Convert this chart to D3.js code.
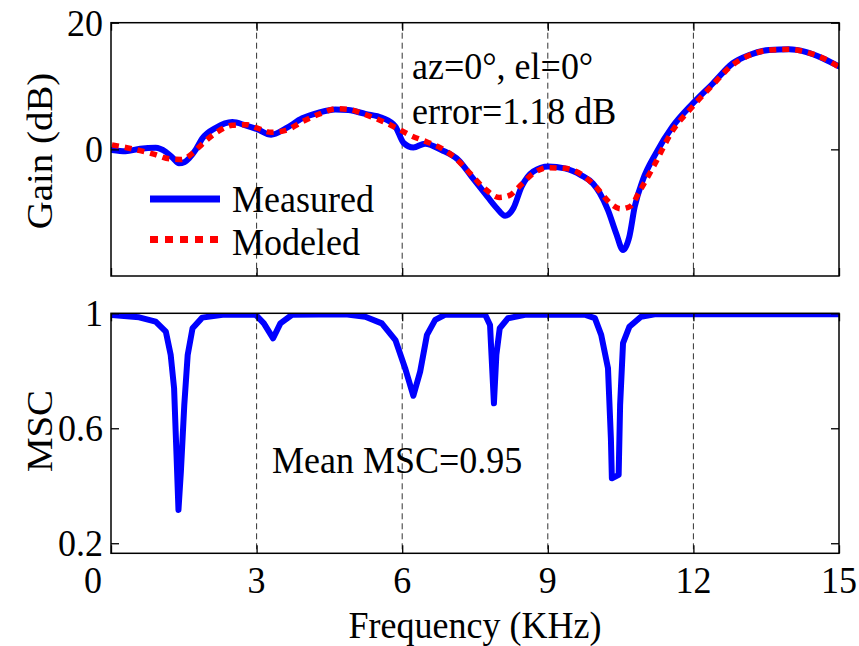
<!DOCTYPE html>
<html>
<head>
<meta charset="utf-8">
<script src="https://cdn.jsdelivr.net/npm/d3@7/dist/d3.min.js"></script>
<style>
body { margin: 0; background: #fff; }
</style>
</head>
<body>
<svg id="fig" width="859" height="646"></svg>
<script>
// measured gain (dB) vs frequency (kHz)
var measFreq = [0.02, 0.3, 0.6, 0.92, 1.13, 1.28, 1.40, 1.52, 1.61, 1.75, 1.88, 2.16, 2.5, 2.77, 3.01, 3.3, 3.6, 3.94,
  4.28, 4.62, 4.89, 5.24, 5.58, 5.86, 6.03, 6.23, 6.47, 6.81, 7.16, 7.43, 7.70, 7.95, 8.12, 8.29, 8.46, 8.70,
  9.01, 9.35, 9.69, 9.93, 10.07, 10.24, 10.41, 10.55, 10.68, 10.79, 10.96, 11.23, 11.57, 11.98, 12.40, 12.81,
  13.15, 13.56, 13.97, 14.31, 14.66, 15.0];
var measGain = [-0.1, -0.3, 0.1, 0.25, -0.4, -1.4, -2.2, -2.0, -1.4, 0.0, 1.7, 3.4, 4.3, 3.8, 3.2, 2.3, 3.3, 4.9,
  5.8, 6.3, 6.2, 5.6, 5.0, 3.6, 1.0, 0.3, 0.9, -0.1, -1.7, -4.3, -6.9, -9.3, -10.5, -9.3, -5.9, -3.5,
  -2.7, -3.0, -4.1, -5.4, -6.9, -9.6, -13.3, -15.9, -13.8, -9.1, -4.8, -0.6, 3.6, 7.2, 10.4, 13.6,
  14.9, 15.7, 15.8, 15.4, 14.4, 13.1];

// modeled gain
var modFreq = [0.02, 0.3, 0.6, 0.9, 1.2, 1.45, 1.7, 1.9, 2.2, 2.5, 2.8, 3.0, 3.3, 3.6, 3.95, 4.3, 4.65, 4.9,
  5.2, 5.6, 5.9, 6.2, 6.5, 6.8, 7.1, 7.4, 7.7, 8.0, 8.2, 8.45, 8.7, 9.0, 9.35, 9.7, 10.0, 10.3, 10.5, 10.7,
  10.9, 11.2, 11.55, 12.0, 12.4, 12.8, 13.2, 13.6, 14.0, 14.3, 14.7, 15.0];
var modGain = [0.7, 0.3, -0.2, -0.8, -1.5, -1.6, -0.5, 1.0, 2.8, 3.8, 3.9, 3.4, 2.7, 3.0, 4.4, 5.6, 6.4, 6.3,
  5.6, 4.4, 3.3, 2.1, 1.2, 0.2, -1.4, -3.8, -6.2, -7.6, -7.3, -5.6, -3.8, -2.9, -3.0, -4.0, -6.0, -8.6, -9.4, -9.0,
  -6.5, -2.4, 2.7, 6.9, 10.2, 13.3, 15.0, 15.7, 15.8, 15.4, 14.3, 13.0];

// magnitude squared coherence
var mscFreq = [0.02, 0.58, 0.92, 1.13, 1.23, 1.30, 1.35, 1.39, 1.44, 1.51, 1.58, 1.68, 1.88, 2.3, 2.98, 3.15, 3.34,
  3.49, 3.73, 4.83, 5.24, 5.58, 5.86, 6.06, 6.23, 6.37, 6.51, 6.68, 6.88, 7.71, 7.81, 7.84, 7.89, 7.94, 8.01,
  8.18, 8.53, 9.76, 9.97, 10.10, 10.24, 10.30, 10.32, 10.46, 10.49, 10.55, 10.68, 10.92, 11.23, 15.0];
var mscVal = [0.994, 0.986, 0.971, 0.936, 0.855, 0.739, 0.507, 0.316, 0.449, 0.681, 0.855, 0.948, 0.985, 0.995, 0.995,
  0.965, 0.913, 0.965, 0.995, 0.997, 0.988, 0.965, 0.907, 0.809, 0.713, 0.797, 0.925, 0.977, 0.995, 0.995, 0.959,
  0.855, 0.687, 0.855, 0.948, 0.983, 0.995, 0.995, 0.983, 0.925, 0.809, 0.565, 0.426, 0.438, 0.681, 0.896, 0.953,
  0.988, 0.997, 0.997];

var xTicks = [0, 3, 6, 9, 12, 15];
var gridTicks = [3, 6, 9, 12];
var gainTicks = [0, 20];
var mscTicks = [0.2, 0.6, 1];

var fontName = 'Liberation Serif';
var fs = 36, stretch = 1.08;   // serif text looks a bit taller than wide in the original
var left = 111, right = 839;
var top1 = 22.7, bot1 = 276, top2 = 313.3, bot2 = 553.3;

var svg = d3.select('#fig');
svg.append('rect').attr('width', 859).attr('height', 646).attr('fill', '#fff');
var defs = svg.append('defs');

var x = d3.scaleLinear().domain([0, 15]).range([left, right]);
var yGain = d3.scaleLinear().domain([-20, 20]).range([bot1, top1]);
var yMsc = d3.scaleLinear().domain([0.165, 1]).range([bot2, top2]);

function label(g, px, py, str, anchor, rot) {
    var tr = rot ? `translate(${px},${py}) rotate(-90) scale(${stretch},1)`
                 : `translate(${px},${py}) scale(1,${stretch})`;
    return g.append('text')
        .attr('transform', tr)
        .attr('text-anchor', anchor || 'start')
        .attr('font-family', fontName)
        .attr('font-size', fs)
        .attr('fill', '#000')
        .text(str);
}

function panel(id, y, ptop, pbot, yTicks) {
    var g = svg.append('g').attr('class', id);
    defs.append('clipPath').attr('id', 'clip-' + id)
        .append('rect').attr('x', left).attr('y', ptop).attr('width', right - left).attr('height', pbot - ptop);

    // vertical dashed grid
    g.selectAll('line.grid').data(gridTicks).join('line')
        .attr('class', 'grid')
        .attr('x1', d => x(d)).attr('x2', d => x(d))
        .attr('y1', ptop).attr('y2', pbot)
        .attr('stroke', '#333').attr('stroke-width', 1)
        .attr('stroke-dasharray', '6,4');

    var lines = g.append('g').attr('clip-path', `url(#clip-${id})`);

    // inner ticks on all four sides (matlab style box)
    var ax = g.append('g').attr('class', 'axes');
    ax.append('g').attr('transform', `translate(${left},0)`)
        .call(d3.axisLeft(y).tickValues(yTicks).tickSize(-8).tickFormat(''));
    ax.append('g').attr('transform', `translate(${right},0)`)
        .call(d3.axisRight(y).tickValues(yTicks).tickSize(-8).tickFormat(''));
    ax.append('g').attr('transform', `translate(0,${pbot})`)
        .call(d3.axisBottom(x).tickValues(xTicks).tickSize(-8).tickFormat(''));
    ax.append('g').attr('transform', `translate(0,${ptop})`)
        .call(d3.axisTop(x).tickValues(xTicks).tickSize(-8).tickFormat(''));
    ax.selectAll('.domain').remove();
    ax.selectAll('line').attr('stroke', '#000').attr('stroke-width', 1.3);

    g.append('rect')
        .attr('x', left).attr('y', ptop).attr('width', right - left).attr('height', pbot - ptop)
        .attr('fill', 'none').attr('stroke', '#000').attr('stroke-width', 1.5);

    yTicks.forEach(d => label(g, left - 8, y(d) + 13, d, 'end'));
    return lines;
}

// ---- top: gain
var gTop = panel('gain', yGain, top1, bot1, gainTicks);
var gainLine = d3.line().x(d => x(d[0])).y(d => yGain(d[1])).curve(d3.curveMonotoneX);

gTop.append('path')
    .datum(d3.zip(measFreq, measGain))
    .attr('fill', 'none').attr('stroke', '#0000ff').attr('stroke-width', 6)
    .attr('stroke-linejoin', 'round').attr('stroke-linecap', 'round')
    .attr('d', gainLine);
gTop.append('path')
    .datum(d3.zip(modFreq, modGain))
    .attr('fill', 'none').attr('stroke', '#ff0000').attr('stroke-width', 5.5)
    .attr('stroke-dasharray', '7,6')
    .attr('d', gainLine);

var gainAxes = d3.select('g.gain');
label(gainAxes, 52, 151, 'Gain (dB)', 'middle', true);
label(gainAxes, 412, 79, 'az=0°, el=0°');
label(gainAxes, 412, 124, 'error=1.18 dB');

// legend
gainAxes.append('line').attr('x1', 150).attr('x2', 220).attr('y1', 199).attr('y2', 199)
    .attr('stroke', '#0000ff').attr('stroke-width', 7);
gainAxes.append('line').attr('x1', 150).attr('x2', 220).attr('y1', 239.5).attr('y2', 239.5)
    .attr('stroke', '#ff0000').attr('stroke-width', 7).attr('stroke-dasharray', '8,7');
label(gainAxes, 232, 212, 'Measured');
label(gainAxes, 232, 255, 'Modeled');

// ---- bottom: MSC
var gBot = panel('msc', yMsc, top2, bot2, mscTicks);
gBot.append('path')
    .datum(d3.zip(mscFreq, mscVal))
    .attr('fill', 'none').attr('stroke', '#0000ff').attr('stroke-width', 6)
    .attr('stroke-linejoin', 'round').attr('stroke-linecap', 'round')
    .attr('d', d3.line().x(d => x(d[0])).y(d => yMsc(d[1])));

var mscAxes = d3.select('g.msc');
label(mscAxes, 52, 431, 'MSC', 'middle', true);
label(mscAxes, 272, 473, 'Mean MSC=0.95');

// x tick labels, the "0" sits a bit left of the axis in the original
xTicks.forEach(d => label(mscAxes, x(d) + (d === 0 ? -18 : 0), 593, d, 'middle'));
label(mscAxes, (left + right) / 2, 638, 'Frequency (KHz)', 'middle');
</script>
</body>
</html>
